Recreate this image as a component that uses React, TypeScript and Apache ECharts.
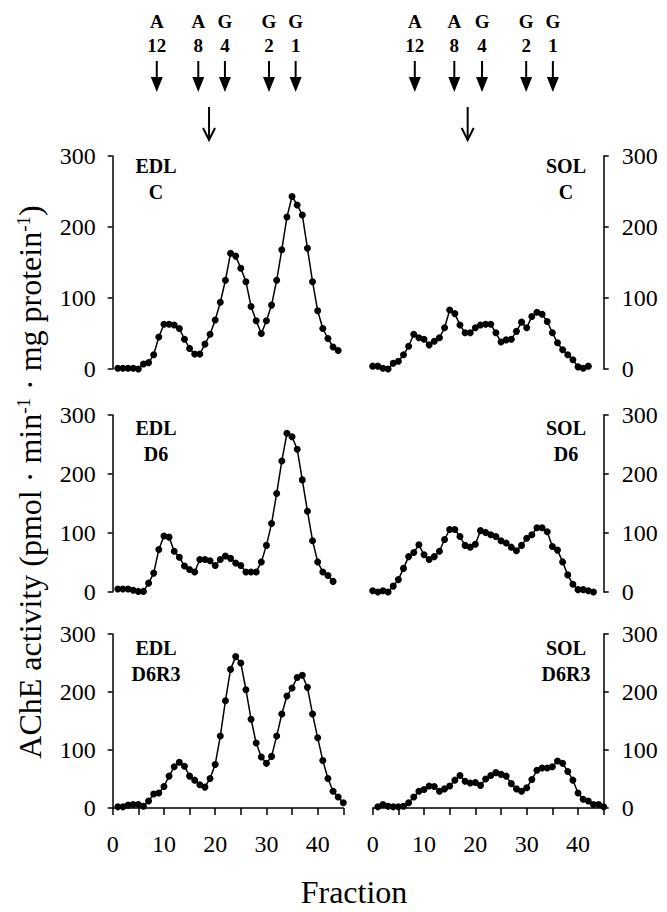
import React, { useEffect, useRef } from "react";
import * as echarts from "echarts";

// ---- data (AChE activity per fraction) ----
const edlCStart = 1;
const edlC = [1, 1, 1, 1, 0, 7, 9, 20, 45, 63, 63, 62, 57, 42, 29, 21, 21, 35, 49, 69, 94, 125, 163, 159, 142, 123, 88, 68, 50, 68, 90, 125, 168, 214, 243, 231, 217, 170, 123, 82, 57, 43, 31, 26];
const solCStart = 0;
const solC = [4, 4, 1, 0, 8, 11, 20, 32, 49, 44, 42, 34, 39, 44, 58, 83, 78, 62, 51, 51, 58, 62, 63, 63, 51, 38, 41, 42, 53, 66, 58, 74, 80, 77, 67, 51, 37, 27, 20, 13, 3, 1, 4];
const edlD6Start = 1;
const edlD6 = [5, 5, 5, 3, 1, 1, 15, 32, 72, 95, 93, 69, 59, 44, 38, 34, 55, 55, 53, 45, 55, 61, 57, 49, 45, 34, 34, 34, 51, 79, 116, 167, 222, 269, 263, 242, 190, 137, 87, 51, 34, 28, 18];
const solD6Start = 0;
const solD6 = [2, 0, 2, 0, 10, 21, 40, 60, 67, 80, 63, 55, 60, 69, 89, 106, 106, 94, 79, 76, 81, 104, 101, 97, 94, 87, 83, 76, 70, 79, 91, 97, 109, 109, 102, 77, 71, 51, 29, 13, 4, 4, 2, 0];
const edlD6R3Start = 1;
const edlD6R3 = [2, 2, 5, 6, 6, 3, 12, 24, 26, 37, 55, 71, 79, 72, 55, 48, 40, 36, 51, 75, 124, 185, 239, 261, 250, 204, 153, 112, 88, 77, 89, 124, 162, 193, 207, 225, 229, 208, 162, 121, 82, 51, 29, 19, 9];
const solD6R3Start = 1;
const solD6R3 = [2, 6, 3, 2, 2, 3, 9, 19, 29, 32, 38, 37, 29, 33, 38, 48, 56, 46, 43, 44, 39, 50, 56, 61, 58, 55, 42, 33, 29, 35, 49, 65, 69, 69, 71, 81, 77, 63, 48, 26, 15, 12, 6, 6, 2];

const panelTitles = [
  ["EDL", "C"], ["SOL", "C"],
  ["EDL", "D6"], ["SOL", "D6"],
  ["EDL", "D6R3"], ["SOL", "D6R3"],
];

// molecular form markers (fraction positions)
const markerLetters = ["A", "A", "G", "G", "G"];
const markerNumbers = ["12", "8", "4", "2", "1"];
const edlMarkerFractions = [8.6, 16.7, 21.9, 30.5, 35.7];
const solMarkerFractions = [8.2, 15.9, 21.3, 29.9, 35.1];
const edlOpenArrowFraction = 18.8;
const solOpenArrowFraction = 18.5;

const xMin = 0, xMax = 45, xInterval = 5;
const yMin = 0, yMax = 300, yInterval = 100;

const FONT = "'Liberation Serif', 'Times New Roman', Times, serif";

// layout (pixels)
const colLeft = [112.7, 372.7];
const colWidth = [230.6, 231];
const rowTop = [156, 415, 634];
const rowHeight = [213, 177, 174];
const titleCenterX = [156, 566];
const titleCenterY = [179, 441, 661];

function pairs(values: number[], start: number) {
  return values.map((v, i) => [start + i, v]);
}

export default function App() {
  const ref = useRef<HTMLDivElement>(null);
  useEffect(() => {
    if (!ref.current) return;
    const chart = echarts.init(ref.current, undefined, { renderer: "svg" });
    const seriesData = [
      pairs(edlC, edlCStart), pairs(solC, solCStart),
      pairs(edlD6, edlD6Start), pairs(solD6, solD6Start),
      pairs(edlD6R3, edlD6R3Start), pairs(solD6R3, solD6R3Start),
    ];
    const grids: any[] = [];
    const xAxes: any[] = [];
    const yAxes: any[] = [];
    const series: any[] = [];
    const axisLine = { lineStyle: { color: "#000", width: 1.5 } };
    for (let i = 0; i < 6; i++) {
      const r = Math.floor(i / 2);
      const c = i % 2;
      const bottom = r === 2;
      grids.push({ left: colLeft[c], top: rowTop[r], width: colWidth[c], height: rowHeight[r], containLabel: false });
      xAxes.push({
        type: "value", gridIndex: i, min: xMin, max: xMax, interval: xInterval,
        axisLine: { show: bottom, onZero: false, ...axisLine },
        axisTick: { show: bottom, length: 7, inside: false, lineStyle: { color: "#000", width: 1.5 } },
        axisLabel: {
          show: bottom, color: "#000", fontSize: 24, fontFamily: FONT, margin: 24,
          formatter: (v: number) => (v % 10 === 0 ? String(v) : ""),
        },
        splitLine: { show: false },
      });
      yAxes.push({
        type: "value", gridIndex: i, min: yMin, max: yMax, interval: yInterval,
        position: c === 0 ? "left" : "right",
        axisLine: { show: true, onZero: false, ...axisLine },
        axisTick: { show: true, length: 5, inside: false, lineStyle: { color: "#000", width: 1.5 } },
        axisLabel: { color: "#000", fontSize: 24, fontFamily: FONT, margin: c === 0 ? 17 : 18 },
        splitLine: { show: false },
      });
      series.push({
        type: "line", xAxisIndex: i, yAxisIndex: i, data: seriesData[i],
        symbol: "circle", symbolSize: 7, showSymbol: true, clip: false,
        lineStyle: { color: "#000", width: 1.5 }, itemStyle: { color: "#000" },
      });
    }

    chart.setOption({
      animation: false,
      backgroundColor: "#fff",
      grid: grids, xAxis: xAxes, yAxis: yAxes, series,
    });

    const graphics: any[] = [];
    // panel titles
    for (let i = 0; i < 6; i++) {
      const r = Math.floor(i / 2);
      const c = i % 2;
      graphics.push({
        type: "text", x: titleCenterX[c], y: titleCenterY[r],
        style: {
          text: panelTitles[i].join("\n"), fill: "#000", font: `bold 20px ${FONT}`,
          align: "center", verticalAlign: "middle", lineHeight: 26,
        },
      });
    }
    // markers
    const addMarkers = (axisIndex: number, fracs: number[], openF: number) => {
      fracs.forEach((f, k) => {
        const px = chart.convertToPixel({ xAxisIndex: axisIndex }, f) as number;
        graphics.push({ type: "text", x: px, y: 21, style: { text: markerLetters[k], fill: "#000", font: `bold 19px ${FONT}`, align: "center", verticalAlign: "middle" } });
        graphics.push({ type: "text", x: px, y: 45, style: { text: markerNumbers[k], fill: "#000", font: `bold 19px ${FONT}`, align: "center", verticalAlign: "middle" } });
        graphics.push({ type: "line", shape: { x1: px, y1: 61, x2: px, y2: 80 }, style: { stroke: "#000", lineWidth: 2 } });
        graphics.push({ type: "polygon", shape: { points: [[px - 6, 77], [px + 6, 77], [px, 92]] }, style: { fill: "#000" } });
      });
      const ox = chart.convertToPixel({ xAxisIndex: axisIndex }, openF) as number;
      graphics.push({ type: "line", shape: { x1: ox, y1: 107, x2: ox, y2: 140 }, style: { stroke: "#000", lineWidth: 2 } });
      graphics.push({ type: "polyline", shape: { points: [[ox - 6, 128], [ox, 140], [ox + 6, 128]] }, style: { stroke: "#000", lineWidth: 2, fill: null } });
    };
    addMarkers(0, edlMarkerFractions, edlOpenArrowFraction);
    addMarkers(1, solMarkerFractions, solOpenArrowFraction);

    // axis titles
    graphics.push({
      type: "text", x: 30, y: 482, rotation: Math.PI / 2,
      style: {
        text: "{a|AChE activity (pmol · min}{s|-1}{a| · mg protein}{s|-1}{a|)}",
        align: "center", verticalAlign: "middle",
        rich: {
          a: { fontSize: 32, fontFamily: FONT, fill: "#000", verticalAlign: "bottom" },
          s: { fontSize: 19, fontFamily: FONT, fill: "#000", verticalAlign: "top" },
        },
      },
    });
    graphics.push({
      type: "text", x: 354, y: 892,
      style: { text: "Fraction", fill: "#000", font: `32px ${FONT}`, align: "center", verticalAlign: "middle" },
    });

    chart.setOption({ graphic: graphics });
    return () => chart.dispose();
  }, []);
  return <div ref={ref} style={{ position: "fixed", left: 0, top: 0, width: 667, height: 912 }} />;
}
